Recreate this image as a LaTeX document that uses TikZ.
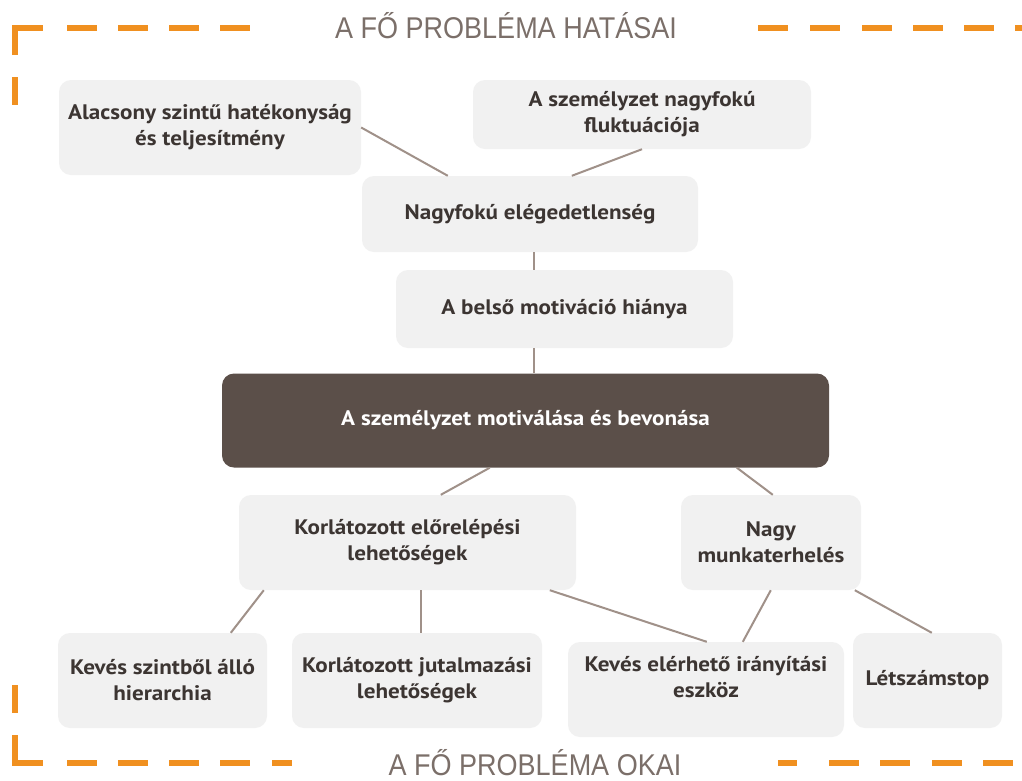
\documentclass[tikz,border=0pt]{standalone}
\usepackage{fontspec}
\usetikzlibrary{calc}
\newfontfamily\boxfont{PT Sans}[FakeStretch=1.1]
\newfontfamily\headfont{Liberation Sans}[FakeStretch=0.9]
\definecolor{boxgray}{RGB}{241,241,241}
\definecolor{boxtext}{RGB}{60,53,50}
\definecolor{corebrown}{RGB}{91,79,73}
\definecolor{linkbrown}{RGB}{160,145,137}
\definecolor{frameorange}{RGB}{240,144,32}
\definecolor{headgray}{RGB}{123,111,105}
\begin{document}
\begin{tikzpicture}[x=1pt,y=-1pt,
  cause/.style={fill=boxgray, rounded corners=12pt, inner sep=0pt, align=center,
    text=boxtext, font=\boxfont\bfseries\fontsize{21}{26}\selectfont},
  core/.style={cause, fill=corebrown, text=white},
  link/.style={draw=linkbrown, line width=2pt},
  frame/.style={draw=frameorange, line width=6pt, line join=miter},
  head/.style={text=headgray, font=\headfont\fontsize{30}{36}\selectfont,
    inner sep=0pt, anchor=base}]
\useasboundingbox[fill=white] (0,0) rectangle (1022,780);

% dashed orange brackets, top and bottom
\draw[frame] (15,77) -- (15,105);
\draw[frame] (15,55) -- (15,28) -- (43,28);
\foreach \a in {67,118,169,220,758,810,862,913,964,1015}
  \draw[frame] (\a,28) -- ++(30,0);
\draw[frame] (15,685) -- (15,713);
\draw[frame] (15,735) -- (15,763) -- (43,763);
\foreach \a in {67,118,169,220,829,880,932,983}
  \draw[frame] (\a,763) -- ++(30,0);
\draw[frame] (272,763) -- (292,763);
\draw[frame] (778,763) -- (797,763);

% section headings
\node[head] (effects) at (506,38) {A FŐ PROBLÉMA HATÁSAI};
\node[head] (causes) at (535,775) {A FŐ PROBLÉMA OKAI};

% effects
\node[cause, minimum width=302, minimum height=95] (n1) at (210,127.5)
  {Alacsony szintű hatékonyság\\és teljesítmény};
\node[cause, minimum width=338, minimum height=69] (n2) at (642,114.5)
  {A személyzet nagyfokú\\fluktuációja};
\node[cause, minimum width=336, minimum height=76] (n3) at (530,214)
  {Nagyfokú elégedetlenség};
\node[cause, minimum width=337, minimum height=78] (n4) at (564.5,309)
  {A belső motiváció hiánya};

% core problem
\node[core, minimum width=607, minimum height=94] (dk) at (525.5,420.5)
  {A személyzet motiválása és bevonása};

% causes
\node[cause, minimum width=337, minimum height=95] (n6) at (407.5,542.5)
  {Korlátozott előrelépési\\lehetőségek};
\node[cause, minimum width=180, minimum height=95] (n7) at (771,542.5)
  {Nagy\\munkaterhelés};
\node[cause, minimum width=209, minimum height=95] (n8) at (162.5,680.5)
  {Kevés szintből álló\\hierarchia};
\node[cause, minimum width=250, minimum height=95] (n9) at (417,680.5)
  {Korlátozott jutalmazási\\lehetőségek};
\node[cause, minimum width=276, minimum height=95] (n10) at (706,689.5)
  {Kevés elérhető irányítási\\eszköz\\\mbox{}};
\node[cause, minimum width=149, minimum height=95] (n11) at (927.5,680.5)
  {Létszámstop};

% connectors
\draw[link] (n1.east) -- ($(n3.north west)+(86,0)$);
\draw[link] (n2.south) -- ($(n3.north west)+(210,0)$);
\draw[link] ($(n3.south west)+(172,0)$) -- ($(n4.north west)+(138,0)$);
\draw[link] ($(n4.south west)+(138,0)$) -- ($(dk.north west)+(312,0)$);
\draw[link] ($(dk.south west)+(268,0)$) -- ($(n6.north west)+(202,0)$);
\draw[link] ($(dk.south west)+(515,0)$) -- ($(n7.north west)+(92,0)$);
\draw[link] ($(n6.south west)+(25,0)$) -- ($(n8.north west)+(173,0)$);
\draw[link] ($(n6.south west)+(182,0)$) -- ($(n9.north west)+(129,0)$);
\draw[link] ($(n6.south west)+(311,0)$) -- ($(n10.north west)+(139,0)$);
\draw[link] ($(n7.south west)+(90,0)$) -- ($(n10.north west)+(175,0)$);
\draw[link] ($(n7.south west)+(174,0)$) -- ($(n11.north west)+(79,0)$);
\end{tikzpicture}
\end{document}
